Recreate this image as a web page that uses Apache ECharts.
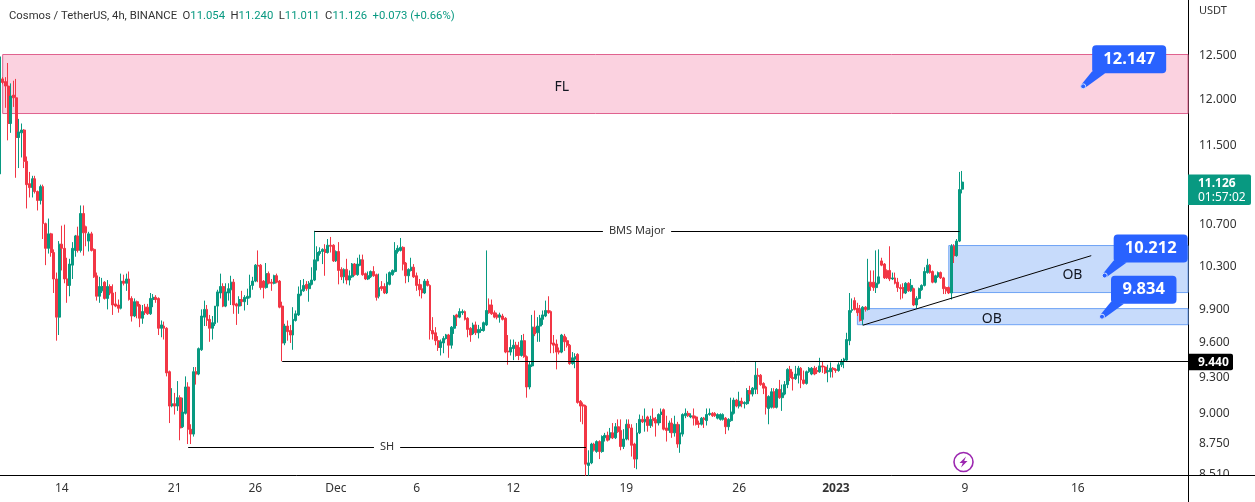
<!DOCTYPE html>
<html>
<head>
<meta charset="utf-8">
<title>Cosmos / TetherUS</title>
<style>
  html, body { margin: 0; padding: 0; background: #fff; }
  #main { width: 1255px; height: 502px; }
</style>
<script src="https://cdn.jsdelivr.net/npm/echarts@6/dist/echarts.min.js"></script>
</head>
<body>
<div id="main"></div>
<script>
// [open, close, low, high], one list per month
const ohlcNov = [
  [11.21,12.48,11.17,12.50],[12.23,12.19,12.17,12.25],[12.20,12.15,11.91,12.25],[12.15,11.74,11.56,12.41],[11.74,12.04,11.64,12.18],[12.05,12.02,11.92,12.21],
  [12.02,11.59,11.17,12.23],[11.59,11.65,11.27,11.79],[11.64,11.67,11.38,11.74],[11.67,11.34,11.27,11.68],[11.34,11.10,10.86,11.39],[11.11,11.07,10.97,11.23],
  [11.07,11.16,10.97,11.19],[11.16,11.03,11.01,11.19],[11.03,10.94,10.84,11.04],[10.94,11.08,10.90,11.10],[11.08,10.71,10.56,11.10],[10.71,10.47,10.31,10.72],
  [10.47,10.61,10.42,10.76],[10.61,10.43,10.39,10.62],[10.43,10.18,10.05,10.46],[10.18,9.83,9.62,10.24],[9.83,10.51,9.67,10.54],[10.51,10.47,10.26,10.69],
  [10.47,10.18,10.14,10.70],[10.18,10.12,9.96,10.38],[10.12,10.32,10.02,10.37],[10.31,10.47,10.18,10.53],[10.45,10.59,10.39,10.60],[10.59,10.45,10.43,10.68],
  [10.45,10.81,10.43,10.89],[10.81,10.62,10.40,10.89],[10.68,10.62,10.49,10.69],[10.54,10.61,10.44,10.63],[10.61,10.45,10.44,10.63],[10.46,10.20,10.19,10.47],
  [10.21,10.02,9.98,10.24],[10.02,10.11,9.96,10.20],[10.07,10.11,10.05,10.19],[10.15,10.00,9.99,10.16],[10.00,10.11,9.90,10.17],[10.11,10.05,10.03,10.13],
  [10.05,9.94,9.85,10.13],[9.95,9.93,9.92,10.06],[9.94,9.91,9.87,9.99],[9.91,10.16,9.90,10.23],[10.16,10.14,10.12,10.22],[10.14,10.18,10.07,10.23],
  [10.18,9.99,9.98,10.25],[10.00,9.84,9.79,10.02],[9.84,9.97,9.83,10.00],[9.97,9.93,9.82,9.98],[9.94,9.82,9.74,9.95],[9.82,9.88,9.77,9.94],
  [9.92,9.87,9.85,9.95],[9.92,9.86,9.85,9.95],[9.86,10.00,9.85,10.05],[9.99,10.01,9.92,10.04],[10.01,9.99,9.96,10.03],[10.00,9.73,9.67,10.01],
  [9.73,9.76,9.65,9.80],[9.75,9.73,9.63,9.79],[9.73,9.34,9.31,9.74],[9.35,9.06,8.92,9.36],[9.06,9.08,9.05,9.21],[9.08,9.06,8.99,9.17],
  [9.06,9.13,9.02,9.27],[9.13,8.88,8.78,9.15],[8.89,9.01,8.88,9.13],[9.00,9.22,8.99,9.31],[9.22,8.87,8.75,9.26],[8.87,8.83,8.75,8.91],
  [8.83,9.35,8.81,9.39],[9.35,9.33,9.24,9.39],[9.33,9.55,9.32,9.56],[9.54,9.84,9.53,9.90],[9.83,9.90,9.75,9.98],[9.90,9.80,9.75,9.94],
  [9.81,9.73,9.61,9.85],[9.73,9.78,9.63,9.84],[9.77,9.93,9.75,9.93],[9.93,10.06,9.78,10.08],[10.05,10.11,10.00,10.23],[10.11,9.93,9.92,10.14],
  [9.93,10.06,9.92,10.14],[10.05,10.09,9.98,10.14],[10.08,10.15,9.94,10.21],[10.15,9.94,9.86,10.18],[9.95,9.93,9.76,9.96],[9.93,9.99,9.86,10.02],
  [9.99,9.97,9.93,10.07],[9.97,10.01,9.89,10.03],[10.00,10.02,9.94,10.09],[10.01,10.12,10.00,10.22],[10.12,10.16,10.08,10.20],[10.16,10.31,10.15,10.32],
  [10.31,10.30,10.15,10.45],[10.31,10.10,10.08,10.32],[10.16,10.10,10.00,10.17],[10.10,10.23,10.09,10.33],[10.23,10.14,10.13,10.25],[10.15,10.14,10.07,10.18],
  [10.14,10.21,10.13,10.22],[10.21,10.15,10.14,10.23],[10.16,9.92,9.91,10.17],[9.93,9.60,9.44,9.97],[9.60,9.75,9.58,9.77],[9.75,9.70,9.62,9.80],
  [9.71,9.67,9.60,9.76],[9.67,9.81,9.54,9.92],[9.80,9.86,9.79,9.89],[9.85,10.04,9.84,10.11],[10.03,10.08,10.02,10.17],[10.07,10.12,10.06,10.18],
  [10.13,10.09,10.07,10.16],[10.09,10.14,9.97,10.16],[10.13,10.17,10.12,10.29],[10.17,10.36,10.16,10.64],[10.35,10.43,10.26,10.49],[10.42,10.44,10.40,10.48],
  [10.44,10.46,10.32,10.47],[10.46,10.43,10.21,10.51],[10.43,10.50,10.42,10.56],[10.50,10.49,10.43,10.58],[10.50,10.35,10.34,10.51]
]
const ohlcDec = [
  [10.35,10.44,10.34,10.45],[10.44,10.26,10.13,10.53],[10.27,10.20,10.17,10.29],[10.20,10.27,10.14,10.28],[10.27,10.17,10.13,10.37],[10.17,10.21,10.12,10.26],
  [10.20,10.32,10.19,10.33],[10.32,10.22,10.21,10.33],[10.22,10.32,10.21,10.38],[10.31,10.36,10.30,10.41],[10.36,10.22,10.21,10.41],[10.23,10.18,10.17,10.24],
  [10.18,10.21,10.17,10.25],[10.20,10.25,10.19,10.26],[10.25,10.21,10.20,10.30],[10.22,10.01,9.98,10.23],[10.02,10.10,10.00,10.23],[10.11,10.09,10.07,10.16],
  [10.11,10.05,10.04,10.14],[10.05,10.15,10.04,10.23],[10.13,10.24,10.12,10.25],[10.22,10.26,10.21,10.27],[10.25,10.45,10.24,10.53],[10.44,10.47,10.42,10.50],
  [10.45,10.48,10.44,10.57],[10.48,10.32,10.26,10.49],[10.33,10.21,10.14,10.34],[10.21,10.27,10.15,10.28],[10.26,10.29,10.25,10.38],[10.29,10.20,10.19,10.32],
  [10.21,10.12,10.07,10.24],[10.13,10.08,10.02,10.18],[10.09,10.05,10.00,10.13],[10.05,10.16,10.04,10.18],[10.16,10.12,10.11,10.18],[10.12,9.71,9.63,10.13],
  [9.71,9.68,9.63,9.83],[9.69,9.62,9.58,9.74],[9.62,9.56,9.53,9.66],[9.56,9.61,9.49,9.63],[9.60,9.64,9.51,9.66],[9.64,9.67,9.63,9.68],
  [9.67,9.58,9.47,9.68],[9.58,9.74,9.55,9.75],[9.73,9.84,9.68,9.85],[9.85,9.83,9.75,9.86],[9.83,9.88,9.82,9.91],[9.87,9.88,9.85,9.90],
  [9.88,9.81,9.80,9.89],[9.82,9.72,9.65,9.83],[9.73,9.67,9.61,9.74],[9.68,9.76,9.67,9.78],[9.76,9.69,9.67,9.79],[9.69,9.72,9.64,9.76],
  [9.71,9.72,9.69,9.74],[9.71,9.78,9.70,9.79],[9.76,9.89,9.75,10.45],[9.94,9.87,9.86,10.00],[9.94,9.86,9.85,9.99],[9.87,9.83,9.82,9.89],
  [9.85,9.83,9.81,9.87],[9.83,9.85,9.78,9.87],[9.84,9.81,9.80,9.86],[9.82,9.52,9.51,9.83],[9.53,9.52,9.41,9.67],[9.52,9.56,9.49,9.63],
  [9.55,9.58,9.45,9.63],[9.58,9.49,9.48,9.61],[9.56,9.49,9.45,9.61],[9.49,9.62,9.48,9.67],[9.62,9.48,9.47,9.68],[9.48,9.22,9.13,9.49],
  [9.22,9.41,9.20,9.44],[9.40,9.74,9.39,9.85],[9.74,9.68,9.66,9.89],[9.69,9.75,9.61,9.83],[9.75,9.82,9.61,9.85],[9.81,9.85,9.76,9.89],
  [9.84,9.89,9.83,9.98],[9.89,9.87,9.86,10.02],[9.88,9.59,9.51,9.89],[9.60,9.58,9.51,9.67],[9.59,9.52,9.37,9.63],[9.53,9.52,9.50,9.56],
  [9.52,9.67,9.51,9.68],[9.66,9.61,9.53,9.68],[9.62,9.58,9.56,9.65],[9.58,9.42,9.41,9.59],[9.42,9.47,9.41,9.52],[9.46,9.48,9.38,9.51],
  [9.50,9.09,9.08,9.51],[9.10,9.06,8.93,9.11],[9.07,9.06,8.91,9.09],[9.06,8.59,8.50,9.07],[8.58,8.60,8.50,8.70],[8.60,8.75,8.59,8.76],
  [8.75,8.70,8.69,8.76],[8.69,8.77,8.68,8.78],[8.77,8.69,8.63,8.78],[8.69,8.81,8.68,8.82],[8.80,8.82,8.77,8.84],[8.82,8.78,8.77,8.85],
  [8.80,8.84,8.78,8.88],[8.84,8.80,8.79,8.92],[8.80,8.89,8.79,8.92],[8.89,8.85,8.84,8.95],[8.86,8.73,8.70,8.95],[8.73,8.79,8.71,8.87],
  [8.79,8.91,8.78,8.95],[8.91,8.88,8.78,8.95],[8.88,8.74,8.65,8.91],[8.75,8.63,8.56,8.76],[8.63,8.84,8.55,8.92],[8.84,8.95,8.83,8.99],
  [8.95,8.93,8.92,8.98],[8.93,8.95,8.85,9.04],[8.97,8.90,8.85,8.98],[8.90,8.95,8.88,8.98],[8.96,8.94,8.89,9.04],[8.95,8.92,8.81,8.97],
  [8.92,8.99,8.90,9.00],[8.99,9.01,8.92,9.04],[9.03,8.87,8.86,9.04],[8.88,8.86,8.77,8.98],[8.86,8.92,8.84,8.94],[8.92,8.84,8.80,8.96],
  [8.84,8.91,8.81,8.98],[8.91,8.75,8.72,8.93],[8.75,8.84,8.68,8.91],[8.83,8.99,8.81,9.00],[8.98,9.00,8.96,9.04],[9.00,8.98,8.97,9.02],
  [8.97,8.98,8.96,9.00],[8.98,8.96,8.90,9.04],[8.97,8.91,8.90,8.98],[8.92,8.91,8.88,8.94],[8.91,8.96,8.90,8.97],[8.96,8.95,8.88,8.97],
  [8.94,8.99,8.90,9.04],[8.99,9.00,8.98,9.04],[9.00,8.98,8.97,9.01],[9.00,8.98,8.97,9.01],[8.96,8.99,8.95,9.00],[8.95,8.99,8.94,9.00],
  [8.95,8.99,8.94,9.00],[8.96,8.89,8.83,8.97],[8.89,8.95,8.86,8.96],[8.94,9.01,8.93,9.13],[9.00,9.11,8.99,9.13],[9.11,9.06,9.05,9.12],
  [9.06,9.10,9.04,9.18],[9.10,9.08,9.05,9.13],[9.08,9.09,9.04,9.10],[9.08,9.19,9.07,9.21],[9.19,9.16,9.10,9.23],[9.16,9.21,9.14,9.22],
  [9.20,9.32,9.16,9.44],[9.32,9.31,9.16,9.38],[9.32,9.24,9.23,9.33],[9.25,9.21,9.16,9.26],[9.22,9.05,8.99,9.23],[9.04,9.14,8.91,9.15],
  [9.05,9.18,9.04,9.21],[9.18,9.05,9.04,9.21],[9.05,9.20,9.04,9.21],[9.20,9.13,9.12,9.28],[9.13,9.17,9.02,9.24],[9.16,9.24,9.15,9.27],
  [9.24,9.37,9.21,9.38],[9.37,9.30,9.27,9.40],[9.30,9.29,9.19,9.35],[9.29,9.33,9.28,9.40],[9.32,9.38,9.25,9.40],[9.38,9.28,9.21,9.39],
  [9.28,9.25,9.24,9.36],[9.25,9.35,9.24,9.36],[9.35,9.38,9.34,9.39],[9.33,9.38,9.32,9.39],[9.38,9.33,9.32,9.40],[9.36,9.35,9.33,9.39],
  [9.35,9.40,9.34,9.47],[9.40,9.39,9.34,9.44],[9.39,9.34,9.33,9.40],[9.35,9.36,9.26,9.41],[9.35,9.38,9.30,9.43],[9.38,9.37,9.30,9.39]
]
const ohlcJan = [
  [9.37,9.36,9.34,9.38],[9.36,9.41,9.35,9.43],[9.41,9.44,9.39,9.46],[9.44,9.46,9.38,9.47],[9.45,9.63,9.44,9.69],[9.62,9.89,9.58,10.05],
  [9.89,9.90,9.87,10.00],[9.98,9.90,9.89,10.01],[9.91,9.87,9.84,9.96],[9.90,9.80,9.79,9.94],[9.81,9.92,9.76,9.93],[9.92,9.90,9.88,9.93],
  [9.90,10.15,9.89,10.37],[10.15,10.11,10.07,10.26],[10.15,10.10,10.07,10.26],[10.10,10.14,10.05,10.45],[10.14,10.20,10.13,10.46],[10.35,10.31,10.30,10.38],
  [10.32,10.19,10.18,10.33],[10.26,10.19,10.18,10.27],[10.26,10.18,10.16,10.49],[10.18,10.19,10.17,10.24],[10.19,10.14,10.13,10.24],[10.15,10.10,10.06,10.19],
  [10.10,10.09,9.99,10.13],[10.10,10.05,10.00,10.14],[10.05,10.14,10.04,10.15],[10.14,10.07,10.06,10.15],[10.07,10.12,10.06,10.18],[10.09,9.94,9.93,10.10],
  [9.94,10.00,9.91,10.02],[10.00,10.09,9.99,10.10],[10.08,10.12,10.07,10.13],[10.12,10.25,10.11,10.29],[10.24,10.31,10.23,10.37],[10.31,10.24,10.23,10.32],
  [10.25,10.15,10.14,10.26],[10.15,10.21,10.14,10.22],[10.20,10.24,10.19,10.25],[10.24,10.19,10.18,10.25],[10.19,10.09,10.04,10.20],[10.10,10.07,10.04,10.11],
  [10.10,10.05,10.04,10.11],[10.05,10.49,9.99,10.51],[10.49,10.40,10.33,10.51],[10.40,10.54,10.39,10.56],[10.54,11.05,10.53,11.23],[11.054,11.126,11.011,11.240]
]

// axis ticks
const priceTicks = [8.51, 8.75, 9, 9.3, 9.6, 9.9, 10.3, 10.7, 11.5, 12, 12.5]
const dateTickSlots = [23, 65, 95, 125, 155, 191, 233, 275, 311, 359, 401]
const dateTickLabels = ['14', '21', '26', 'Dec', '6', '12', '19', '26', '2023', '9', '16']

// header
const symbolName = 'Cosmos / TetherUS, 4h, BINANCE'
const headerChange = '+0.073 (+0.66%)'

// drawings: [slot, price] pairs
const flZone = [[1, 12.507], [442, 11.848]]
const obUpper = [[353, 10.497], [442, 10.054]]
const obLower = [[319, 9.907], [442, 9.762]]
const bmsLine = [[117, 10.64], [357, 10.64]]
const shLine = [[70, 8.725], [218, 8.725]]
const supportLine = [[105, 9.44], [442, 9.44]]
const trendLine = [[321, 9.757], [406, 10.40]]

const noteTexts = ['FL', 'OB', 'OB', 'BMS Major', 'SH']
const notePoints = [[209, 12.14], [399, 10.22], [369, 9.81], [237, 10.64], [144, 8.725]]
const noteSizes = [14, 14, 14, 11, 11]

const calloutTexts = ['12.147', '10.212', '9.834']
const calloutPoints = [[403, 12.147], [411, 10.212], [410, 9.834]]
const calloutWidths = [74, 74, 65.5]

const priceTagPoints = [[358, 11.126], [358, 9.44]]
const countdown = '01:57:02'

const candles = ohlcNov.concat(ohlcDec, ohlcJan)

// one category per 4h slot, also the empty ones right of the last candle
const slotCount = 443
const startTime = Date.UTC(2022, 10, 10, 4)
const categories = []
for (let i = 0; i < slotCount; i++) {
  categories.push(new Date(startTime + i * 4 * 3600 * 1000).toISOString().slice(0, 16))
}

const upColor = '#089981'
const downColor = '#f23645'
const textColor = '#333'
const fontName = '"Noto Sans", sans-serif'

function segment(pair) {
  return [{ coord: pair[0] }, { coord: pair[1] }]
}

function zone(pair, fill, border) {
  return [{
    coord: pair[0],
    itemStyle: { color: fill, borderColor: border, borderWidth: 1 }
  }, { coord: pair[1] }]
}

function renderNote(params, api) {
  let p = api.coord([api.value(0), api.value(1)])
  let size = noteSizes[params.dataIndex]
  // the small notes sit on their line, with a gap cut out of it
  return {
    type: 'text',
    style: {
      x: p[0], y: p[1],
      text: noteTexts[params.dataIndex],
      fill: size < 14 ? textColor : '#131722',
      font: size + 'px ' + fontName,
      align: 'center',
      verticalAlign: 'middle',
      backgroundColor: size < 14 ? '#fff' : 'transparent',
      padding: size < 14 ? [1, 6] : 0
    }
  }
}

function renderCallout(params, api) {
  let p = api.coord([api.value(0), api.value(1)])
  let w = calloutWidths[params.dataIndex]
  return {
    type: 'group',
    children: [{
      type: 'polygon',
      shape: { points: [[p[0] - 2, p[1] - 1.5], [p[0] + 9, p[1] - 15], [p[0] + 22, p[1] - 13], [p[0] + 2, p[1] + 1.5]] },
      style: { fill: '#2962ff' }
    }, {
      type: 'rect',
      shape: { x: p[0] + 9, y: p[1] - 41, width: w, height: 28, r: 4 },
      style: { fill: '#2962ff' }
    }, {
      type: 'text',
      style: {
        x: p[0] + 9 + w / 2, y: p[1] - 27,
        text: calloutTexts[params.dataIndex],
        fill: '#fff',
        font: 'bold 16.5px ' + fontName,
        align: 'center',
        verticalAlign: 'middle'
      }
    }, {
      type: 'circle',
      shape: { cx: p[0], cy: p[1], r: 2.5 },
      style: { fill: '#2962ff', stroke: '#d5e2ff', lineWidth: 1 }
    }]
  }
}

function renderPriceTag(params, api) {
  let y = api.coord([api.value(0), api.value(1)])[1]
  let x = params.coordSys.x + params.coordSys.width
  if (params.dataIndex === 0) {
    return {
      type: 'group',
      children: [{
        type: 'rect',
        shape: { x: x, y: y - 7.5, width: 63, height: 30.5, r: [0, 2, 2, 0] },
        style: { fill: upColor }
      }, {
        type: 'text',
        style: { x: x + 10, y: y + 1, text: api.value(1).toFixed(3), fill: '#fff', font: 'bold 12px ' + fontName, verticalAlign: 'middle' }
      }, {
        type: 'text',
        style: { x: x + 10, y: y + 15, text: countdown, fill: '#fff', font: '12px ' + fontName, verticalAlign: 'middle' }
      }]
    }
  }
  return {
    type: 'group',
    children: [{
      type: 'rect',
      shape: { x: x, y: y - 7.5, width: 45, height: 16.5, r: [0, 2, 2, 0] },
      style: { fill: '#000' }
    }, {
      type: 'text',
      style: { x: x + 10, y: y + 1, text: api.value(1).toFixed(3), fill: '#fff', font: 'bold 12px ' + fontName, verticalAlign: 'middle' }
    }]
  }
}

function headerText() {
  let last = candles[candles.length - 1]
  let num = v => '{g|' + v.toFixed(3) + '}'
  return '{d|' + symbolName + '}  {d|O}' + num(last[0]) + '  {d|H}' + num(last[3]) +
    '  {d|L}' + num(last[2]) + '  {d|C}' + num(last[1]) + '  {g|' + headerChange + '}'
}

let myChart = echarts.init(document.getElementById('main'))

let option = {
  animation: false,
  backgroundColor: '#fff',
  textStyle: { fontFamily: fontName },
  title: {
    left: 4,
    top: 6,
    text: headerText(),
    textStyle: {
      fontWeight: 'normal',
      fontSize: 11,
      fontFamily: 'Roboto',
      rich: {
        d: { color: textColor, fontSize: 11.3, fontWeight: 'normal', fontFamily: 'Roboto' },
        g: { color: upColor, fontSize: 11.3, fontWeight: 'normal', fontFamily: 'Roboto' }
      }
    }
  },
  grid: { left: 0, right: 67, top: 0, bottom: 27 },
  xAxis: {
    type: 'category',
    data: categories,
    boundaryGap: false,
    axisLine: { lineStyle: { color: '#000', width: 1 } },
    axisTick: { show: false },
    splitLine: { show: false },
    axisLabel: {
      color: textColor,
      fontSize: 12,
      margin: 8,
      hideOverlap: false,
      interval: function (index) {
        return dateTickSlots.indexOf(index) >= 0
      },
      formatter: function (value, index) {
        let label = dateTickLabels[dateTickSlots.indexOf(index)]
        return label === '2023' ? '{b|' + label + '}' : label
      },
      rich: { b: { fontWeight: 'bold', fontSize: 12, color: textColor, fontFamily: fontName } }
    }
  },
  yAxis: {
    type: 'log',
    position: 'right',
    min: 8.505,
    max: 13.148,
    axisLine: { show: true, lineStyle: { color: '#000', width: 1 } },
    axisTick: { show: false },
    splitLine: { show: false },
    minorSplitLine: { show: false },
    axisLabel: {
      color: textColor,
      fontSize: 12,
      margin: 11,
      padding: [2, 0, 0, 0],
      customValues: priceTicks,
      showMinLabel: true,
      showMaxLabel: true,
      hideOverlap: false,
      formatter: function (value) {
        return Number(value).toFixed(3)
      }
    }
  },
  series: [
    {
      name: 'ATOMUSDT',
      type: 'candlestick',
      data: candles,
      barWidth: 2.4,
      itemStyle: {
        color: upColor,
        color0: downColor,
        borderColor: upColor,
        borderColor0: downColor,
        borderWidth: 1
      },
      markArea: {
        silent: true,
        data: [
          zone(flZone, 'rgba(233,30,99,0.2)', '#e0628f'),
          zone(obUpper, 'rgba(33,110,240,0.25)', '#6fa3f5'),
          zone(obLower, 'rgba(33,110,240,0.25)', '#6fa3f5')
        ]
      },
      markLine: {
        silent: true,
        symbol: 'none',
        label: { show: false },
        lineStyle: { color: '#000', width: 1, type: 'solid' },
        data: [
          segment(bmsLine),
          segment(shLine),
          segment(supportLine),
          segment(trendLine)
        ]
      }
    },
    {
      name: 'notes',
      type: 'custom',
      renderItem: renderNote,
      encode: { x: 0, y: 1 },
      data: notePoints,
      z: 5
    },
    {
      name: 'callouts',
      type: 'custom',
      renderItem: renderCallout,
      encode: { x: 0, y: 1 },
      data: calloutPoints,
      z: 6
    },
    {
      name: 'price tags',
      type: 'custom',
      renderItem: renderPriceTag,
      encode: { x: 0, y: 1 },
      data: priceTagPoints,
      z: 7
    }
  ],
  graphic: [
    // hides the part of the lowest tick label under the frame, then the frame itself
    { type: 'rect', z: 90, shape: { x: 1189, y: 476, width: 66, height: 26 }, style: { fill: '#fff' } },
    { type: 'line', z: 91, shape: { x1: 1188, y1: 475.5, x2: 1255, y2: 475.5 }, style: { stroke: '#000', lineWidth: 1 } },
    { type: 'line', z: 91, shape: { x1: 1188.5, y1: 475, x2: 1188.5, y2: 502 }, style: { stroke: '#000', lineWidth: 1 } },
    { type: 'text', z: 91, style: { x: 1199, y: 11, text: 'USDT', fill: textColor, font: '11px ' + fontName, verticalAlign: 'middle' } },
    // lightning badge
    {
      type: 'group', z: 91,
      children: [
        { type: 'circle', shape: { cx: 963.5, cy: 462, r: 9.5 }, style: { fill: '#fff', stroke: '#9c27b0', lineWidth: 1.6 } },
        { type: 'polygon', shape: { points: [[966, 456.5], [959.5, 463], [962.8, 463], [961, 467.5], [967.5, 461], [964.2, 461]] }, style: { fill: '#9c27b0' } }
      ]
    }
  ]
}

myChart.setOption(option)
</script>
</body>
</html>
